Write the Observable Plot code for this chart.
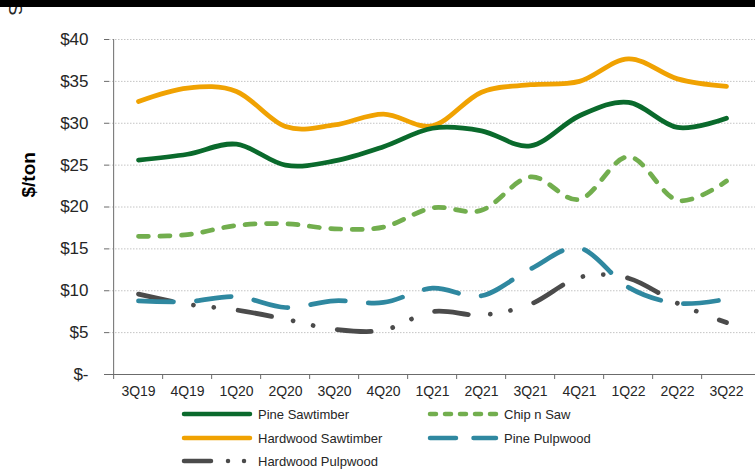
<!DOCTYPE html>
<html>
<head>
<meta charset="utf-8">
<script src="https://cdn.jsdelivr.net/npm/d3@7"></script>
<script src="https://cdn.jsdelivr.net/npm/@observablehq/plot@0.6"></script>
<style>
  body { margin: 0; background: #fff; }
  #wrap { position: relative; width: 755px; height: 472px; overflow: hidden; background: #fff;
          font-family: "Liberation Sans", Arial, sans-serif; color: #262626; }
  #topbar { position: absolute; left: 0; top: 0; width: 755px; height: 7px; background: #000; z-index: 3; }
  #stub { position: absolute; left: 15px; top: 9px; font-size: 19px; line-height: 1;
          transform: translate(-50%, -50%) rotate(90deg); z-index: 2; }
  #chart { position: absolute; left: 0; top: 0; }
  #legend { position: absolute; left: 0; top: 400px; }
</style>
</head>
<body>
<div id="wrap">
  <div id="topbar"></div>
  <div id="stub">S</div>
  <div id="chart"></div>
  <svg id="legend" width="755" height="72"></svg>
</div>
<script>
// Quarterly stumpage prices, $/ton
const quarters = ["3Q19", "4Q19", "1Q20", "2Q20", "3Q20", "4Q20", "1Q21", "2Q21", "3Q21", "4Q21", "1Q22", "2Q22", "3Q22"];
const pineSawtimber     = [25.6, 26.3, 27.5, 25.0, 25.5, 27.2, 29.4, 29.1, 27.3, 30.9, 32.5, 29.5, 30.6];
const hardwoodSawtimber = [32.6, 34.2, 33.8, 29.6, 29.8, 31.1, 29.7, 33.7, 34.6, 35.0, 37.7, 35.3, 34.4];
const chipNSaw          = [16.5, 16.7, 17.8, 18.0, 17.4, 17.6, 19.9, 19.6, 23.6, 20.9, 26.0, 20.8, 23.1];
const pinePulpwood      = [8.8, 8.7, 9.3, 8.0, 8.8, 8.6, 10.3, 9.4, 12.6, 15.1, 10.4, 8.5, 9.0];
const hardwoodPulpwood  = [9.6, 8.4, 7.7, 6.6, 5.4, 5.3, 7.5, 7.1, 8.4, 11.6, 11.5, 8.5, 6.2];
const yTicks = [0, 5, 10, 15, 20, 25, 30, 35, 40];

const seriesNames  = ["Pine Sawtimber", "Chip n Saw", "Hardwood Sawtimber", "Pine Pulpwood", "Hardwood Pulpwood"];
const seriesValues = [pineSawtimber, chipNSaw, hardwoodSawtimber, pinePulpwood, hardwoodPulpwood];
const seriesColors = ["#0a6a2c", "#72ae4e", "#f0a202", "#2f88a0", "#4b4b4b"];
// dash patterns along the plotted curves, and shorter ones for legend swatches
const seriesDashes = [null, "10,11.5", null, "35,23", "34,22,0.01,20.5,0.01,24.5"];
const legendDashes = [null, "6,9", null, "26,17.5", "27,17,0.01,16,0.01,30"];

const W = 755, H = 400, mL = 109, mR = 0, mT = 39, mB = 26;
const step = (W - mL - mR) / quarters.length;
const font = `"Liberation Sans", Arial, sans-serif`;
const axisGray = "#6b6b6b";

const rowsFor = (values) => values.map((v, i) => ({quarter: quarters[i], value: v}));

const lineMarks = seriesNames.map((name, k) =>
  Plot.line(rowsFor(seriesValues[k]), {
    x: "quarter", y: "value",
    curve: "cardinal",
    stroke: seriesColors[k],
    strokeWidth: 4.75,
    strokeLinecap: "round",
    strokeLinejoin: "round",
    strokeDasharray: seriesDashes[k] ?? undefined
  })
);
// draw the lower series first so the sawtimber lines sit on top
const drawOrder = [4, 3, 1, 2, 0];

const chart = Plot.plot({
  width: W, height: H,
  marginTop: mT, marginBottom: mB, marginLeft: mL, marginRight: mR,
  style: {fontFamily: font, color: "#262626", background: "transparent", overflow: "visible"},
  x: {type: "point", domain: quarters, padding: 0.5, label: null},
  y: {domain: [0, 40], label: null},
  marks: [
    Plot.ruleY(yTicks.filter(d => d > 0), {stroke: "#c4c4c4", strokeWidth: 1, strokeDasharray: "1.5,1.5"}),
    Plot.axisY({ticks: yTicks, tickSize: 5, tickPadding: 16, fontSize: 17,
      stroke: axisGray, fill: "#262626",
      tickFormat: d => d === 0 ? "$-" : "$" + d}),
    Plot.axisX({ticks: quarters, tickSize: 5, dx: -step / 2, stroke: axisGray, fill: "none"}),
    Plot.axisX({ticks: quarters, tickSize: 0, tickPadding: 12, fontSize: 14, fill: "#262626"}),
    Plot.ruleY([0], {stroke: axisGray, strokeWidth: 1}),
    Plot.ruleX([quarters[0]], {dx: -step / 2, stroke: axisGray, strokeWidth: 1}),
    ...drawOrder.map(k => lineMarks[k]),
    Plot.text(["$/ton"], {text: d => d, frameAnchor: "left", dx: -80.5, dy: -9.5, rotate: -90,
      fontWeight: "bold", fontSize: 19, fill: "#000"})
  ]
});
document.getElementById("chart").append(chart);

// Legend: two columns, three rows
const legendCols = [182, 428];
const legendRows = [14, 38, 61];
const legendPos = [[0, 0], [1, 0], [0, 1], [1, 1], [0, 2]];
const leg = d3.select("#legend");
seriesNames.forEach((name, k) => {
  const [c, r] = legendPos[k];
  const x0 = legendCols[c], y = legendRows[r];
  leg.append("line")
    .attr("x1", x0 + 2).attr("x2", x0 + 68).attr("y1", y).attr("y2", y)
    .attr("stroke", seriesColors[k]).attr("stroke-width", 4.5)
    .attr("stroke-linecap", "round")
    .attr("stroke-dasharray", legendDashes[k]);
  leg.append("text")
    .attr("x", x0 + 76).attr("y", y).attr("dy", "0.35em")
    .attr("font-family", font).attr("font-size", 13).attr("fill", "#262626")
    .text(name);
});
</script>
</body>
</html>
